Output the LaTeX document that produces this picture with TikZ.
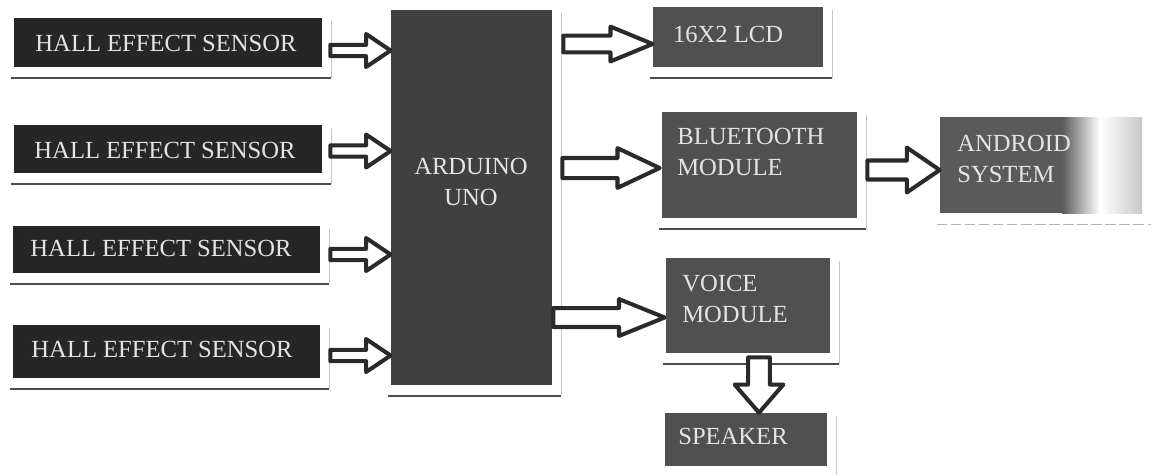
\documentclass[tikz,border=0pt]{standalone}
\usepackage{fontspec}
\setmainfont{Liberation Serif}
\usetikzlibrary{calc,fit}
\definecolor{sensorfill}{HTML}{262626}
\definecolor{ardfill}{HTML}{404040}
\definecolor{modfill}{HTML}{505050}
\definecolor{andfill}{HTML}{5A5A5A}
\definecolor{arrline}{HTML}{2A2A2A}
\definecolor{txt}{HTML}{E4E4E4}
\newcommand{\hblockarrow}[5]{%
  \draw[blockarrow] let \p1=#1, \p2=#2 in
  (\x1,\y1+#3) -- (\x2-#5,\y1+#3) -- (\x2-#5,\y1+#4) -- (\x2,\y1) --
  (\x2-#5,\y1-#4) -- (\x2-#5,\y1-#3) -- (\x1,\y1-#3) -- cycle;}
\newcommand{\vblockarrow}[5]{%
  \draw[blockarrow] let \p1=#1, \p2=#2 in
  (\x1-#3,\y1) -- (\x1-#3,\y2+#5) -- (\x1-#4,\y2+#5) -- (\x1,\y2) --
  (\x1+#4,\y2+#5) -- (\x1+#3,\y2+#5) -- (\x1+#3,\y1) -- cycle;}
\newcommand{\myframe}[2][framebottom]{%
  \draw[#1] ($(#2.south west)+(-3,11)$) -- ($(#2.south east)+(9,11)$);
  \draw[frameright] ($(#2.north east)+(9,3)$) -- ($(#2.south east)+(9,11)$);}
\begin{document}
\begin{tikzpicture}[x=0.02cm,y=-0.02cm,
  box/.style={draw=none, inner sep=0pt, fill=#1},
  lbl/.style={text=txt, font=\fontsize{14}{18}\selectfont, inner sep=0pt},
  blockarrow/.style={draw=arrline, line width=2.3pt, fill=white, line join=round},
  framebottom/.style={draw=black!70, line width=1pt},
  framefaint/.style={draw=black!30, line width=0.6pt, dash pattern=on 6pt off 2pt},
  frameright/.style={draw=black!22, line width=0.5pt}]
\useasboundingbox (0,0) rectangle (1151,474);
\fill[white] (0,0) rectangle (1151,474);
% boxes
\node[box=sensorfill, fit={(14,18) (322,67)}] (s1) {};
\node[box=sensorfill, fit={(14,125) (322,173)}] (s2) {};
\node[box=sensorfill, fit={(13,226) (320,273)}] (s3) {};
\node[box=sensorfill, fit={(13,325) (320,378)}] (s4) {};
\node[box=ardfill, fit={(391,10) (552,385)}] (ard) {};
\node[box=modfill, fit={(653,7) (823,67)}] (lcd) {};
\node[box=modfill, fit={(662,112) (857,218)}] (bt) {};
\node[box=andfill, fit={(940,117) (1142,213)}] (and) {};
\shade[left color=andfill, right color=white] (1062,117) rectangle (1100,213);
\shade[left color=white, right color=black!22] (1100,117) rectangle (1142,213);
\node[box=modfill, fit={(666,258) (830,353)}] (voice) {};
\node[box=modfill, fit={(665,413) (827,466)}] (spk) {};
% frames
\myframe{s1}\myframe{s2}\myframe{s3}\myframe{s4}
\myframe{ard}\myframe{lcd}\myframe{bt}\myframe[framefaint]{and}
\myframe{voice}\myframe{spk}
% arrows
\hblockarrow{($(s1.east)+(8,8)$)}{(ard.west)}{3.2pt}{9.4pt}{14pt}
\hblockarrow{($(s2.east)+(8,2)$)}{(ard.west)}{3.2pt}{9.4pt}{14pt}
\hblockarrow{($(s3.east)+(10,5)$)}{(ard.west)}{3.2pt}{9.4pt}{14pt}
\hblockarrow{($(s4.east)+(10,4)$)}{(ard.west)}{3.2pt}{9.4pt}{14pt}
\hblockarrow{($(ard.east |- lcd.west)+(11,7)$)}{(lcd.west)}{4.8pt}{9.9pt}{24pt}
\hblockarrow{($(ard.east |- bt.west)+(10,3)$)}{($(bt.west)+(-2,0)$)}{5.7pt}{11.3pt}{24pt}
\hblockarrow{($(bt.east |- and.west)+(10,5)$)}{(and.west)}{5.4pt}{12.8pt}{18.7pt}
\hblockarrow{($(ard.east |- voice.west)+(1,12)$)}{($(voice.west)+(-1,0)$)}{5.4pt}{10.5pt}{26pt}
\vblockarrow{($(voice.south)+(11,4)$)}{(spk.north)}{6.2pt}{13.9pt}{16pt}
% labels
\node[lbl] (t1) at (166,43) {HALL EFFECT SENSOR};
\node[lbl] (t2) at (165,150) {HALL EFFECT SENSOR};
\node[lbl] (t3) at (161,248) {HALL EFFECT SENSOR};
\node[lbl] (t4) at (162,349) {HALL EFFECT SENSOR};
\node[lbl, align=center] (tard) at (471,182) {ARDUINO\\UNO};
\node[lbl] (tlcd) at (728,34) {16X2 LCD};
\node[lbl, align=left, anchor=west] (tbt) at (677,152) {BLUETOOTH\\MODULE};
\node[lbl, align=left, anchor=west] (tand) at (957,159) {ANDROID\\SYSTEM};
\node[lbl, align=left, anchor=west] (tvoice) at (682,299) {VOICE\\MODULE};
\node[lbl] (tspk) at (733,436) {SPEAKER};
\end{tikzpicture}
\end{document}
